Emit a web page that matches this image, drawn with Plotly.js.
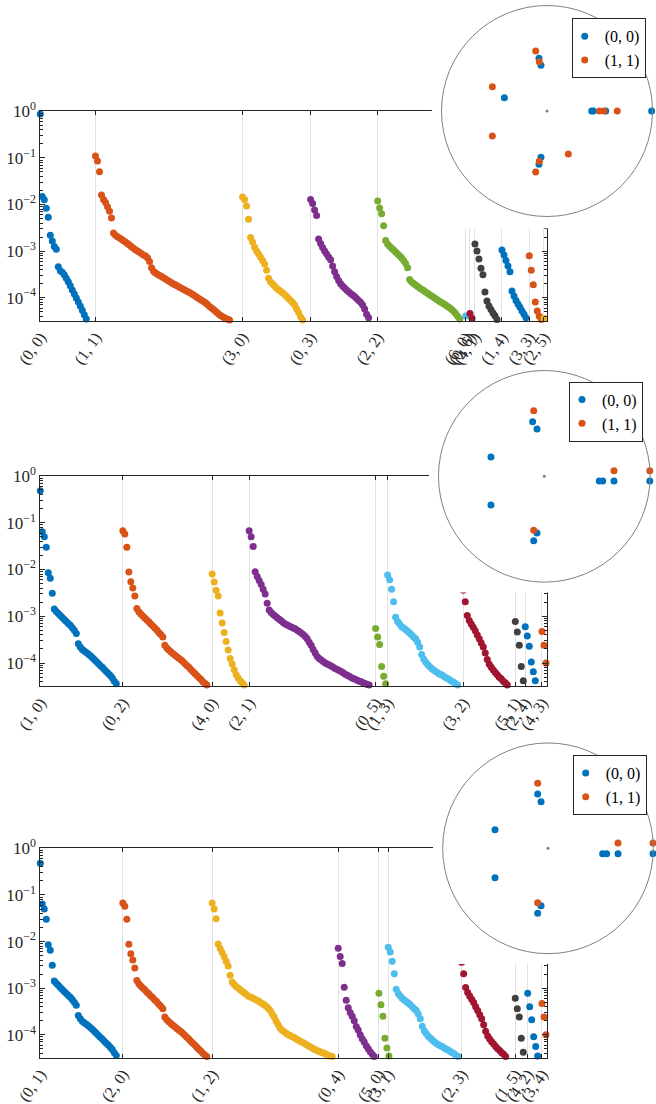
<!DOCTYPE html>
<html><head><meta charset="utf-8">
<script src="https://cdn.plot.ly/plotly-3.0.1.min.js"></script>
<style>html,body{margin:0;padding:0;background:#fff}#plot{width:656px;height:1104px}</style>
</head><body><div id="plot"></div>
<script>
// ---------- Panel 1 (triality 0) ----------
const p1Labels = ['(0, 0)','(1, 1)','(3, 0)','(0, 3)','(2, 2)','(6, 0)','(0, 6)','(4, 1)','(1, 4)','(3, 3)','(2, 5)'];
const p1Starts = [0, 27.6, 101.1, 135.1, 168.6, 212.6, 214.75, 217.25, 230.75, 244.4, 251.75];
const s00 = [0.875,0.0148,0.0127,0.0083,0.0053,0.0022,0.00165,0.00125,0.0011,0.00046,0.00038,0.00035,0.00031,0.00026,0.00022,0.00018,0.000146,0.00012,9.9e-5,8.1e-5,6.6e-5,5.4e-5,4.3e-5,3.5e-5];
const s11 = [0.11,0.0857,0.0506,0.016,0.0128,0.011,0.009,0.0072,0.0051,0.00245,
  0.00218,0.00203,0.00191,0.00179,0.00167,0.00157,0.00146,0.00135,0.00124,0.00115,
  0.00107,0.001,0.00094,0.00088,0.00082,0.00078,0.00072,0.0006,0.00044,0.00037,
  0.00034,0.00032,0.0003,0.000284,0.000267,0.000252,0.000236,0.000223,0.000209,0.000197,
  0.000186,0.000177,0.000167,0.000159,0.000151,0.000143,0.000136,0.000129,0.000121,0.000114,
  0.000107,0.0001,9.4e-5,8.8e-5,8.3e-5,7.8e-5,7.1e-5,6.5e-5,6.0e-5,5.6e-5,
  5.1e-5,4.7e-5,4.3e-5,4.05e-5,3.8e-5,3.6e-5,3.45e-5,3.3e-5];
const s30 = [0.0145,0.0128,0.0093,0.0048,0.00196,0.00157,0.00121,0.001,0.00087,0.00074,0.00063,0.00053,0.00039,0.00026,0.000217,0.000197,0.000177,0.00016,0.000148,0.000137,0.000127,0.000117,0.000106,9.6e-5,8.7e-5,7.9e-5,7.0e-5,5.7e-5,4.8e-5,3.9e-5,3.3e-5];
const s03 = [0.0128,0.0105,0.0076,0.0058,0.00182,0.00146,0.00119,0.001,0.00087,0.00075,0.00065,0.00048,0.00036,0.000285,0.000234,0.000199,0.000178,0.000161,0.000146,0.000134,0.000123,0.000114,0.000106,9.6e-5,8.7e-5,8.0e-5,7.0e-5,5.7e-5,4.4e-5,3.7e-5,3.2e-5];
const s22 = [0.0119,0.0084,0.0063,0.0035,0.00169,0.00142,0.00127,0.00115,0.00105,0.00095,0.00087,0.00079,0.00071,0.00063,0.00054,0.00044,0.000246,0.000217,0.000202,0.000187,0.000174,0.000161,0.000151,0.000142,0.000132,0.000124,0.000116,0.000109,0.000102,9.5e-5,8.9e-5,8.3e-5,7.9e-5,7.4e-5,7.0e-5,6.5e-5,6.1e-5,5.6e-5,5.1e-5,4.6e-5,4.0e-5,3.5e-5,3.2e-5];
const s60 = [4.05e-5];
const s06 = [4.6e-5,3.6e-5];
const s41 = [0.00142,0.001,0.00068,0.00043,0.00031,0.000132,8.5e-5,6.6e-5,5.6e-5,4.7e-5,4.1e-5,3.4e-5];
const s14 = [0.00106,0.00082,0.00063,0.00048,0.00036,0.000139,0.000109,8.7e-5,7.3e-5,6.2e-5,5.2e-5,4.4e-5,3.7e-5];
const s33 = [7.9e-4,3.9e-4,1.9e-4,8.1e-5,5.2e-5,4.0e-5,3.4e-5];
const s25 = [3.6e-5];

// ---------- Panel 2 (triality 1) ----------
const p2Labels = ['(1, 0)','(0, 2)','(4, 0)','(2, 1)','(0, 5)','(1, 3)','(3, 2)','(5, 1)','(2, 4)','(4, 3)'];
const p2Starts = [0, 41.25, 85.9, 104.4, 167.6, 173.6, 211.4, 237.4, 242.4, 250.75];
const s10 = [0.48,0.064,0.05,0.03,0.0085,0.0065,0.0031,0.00143,0.00127,0.00115,0.00104,0.00094,0.00085,0.00077,0.0007,0.00064,0.00057,0.0005,0.00043,0.00026,0.00022,0.000195,0.000182,0.000168,0.000156,0.000144,0.000132,0.000119,0.000108,9.8e-5,8.9e-5,8.1e-5,7.3e-5,6.6e-5,6.0e-5,5.4e-5,4.8e-5,4.1e-5,3.6e-5];
const s02 = [0.067,0.057,0.03,0.0088,0.0055,0.004,0.0027,0.00147,0.00125,0.00112,0.00101,0.00092,0.00083,0.00076,0.00068,0.00062,0.00056,0.00051,0.00045,0.00041,0.00036,0.00024,0.00021,0.00019,0.000175,0.00016,0.000149,0.000137,0.000127,0.000118,0.000108,9.8e-5,8.9e-5,8.1e-5,7.3e-5,6.6e-5,6.0e-5,5.4e-5,4.9e-5,4.5e-5,4.0e-5,3.7e-5,3.4e-5];
const s40 = [0.008,0.0054,0.0036,0.0027,0.00118,0.00072,0.00045,0.00029,0.00019,0.000125,9.5e-5,7.2e-5,5.6e-5,4.8e-5,4.2e-5,3.8e-5,3.4e-5];
const s21 = [0.067,0.05,0.031,0.0089,0.0071,0.0058,0.0048,0.0038,0.003,0.0019,0.00136,0.0012,0.00109,0.00101,0.00093,0.00086,0.0008,0.00074,0.00068,0.00065,0.00062,0.00059,0.00056,0.00054,0.0005,0.00047,0.00044,0.00041,0.00037,0.00033,0.00028,0.00024,0.000195,0.000164,0.000138,0.000125,0.000116,0.000108,0.0001,9.6e-5,9.1e-5,8.7e-5,8.1e-5,7.7e-5,7.3e-5,6.9e-5,6.6e-5,6.2e-5,5.8e-5,5.5e-5,5.2e-5,4.9e-5,4.7e-5,4.5e-5,4.3e-5,4.1e-5,4.0e-5,3.8e-5,3.65e-5,3.5e-5,3.4e-5];
const s05 = [5.5e-4,3.6e-4,2.5e-4,8.4e-5,5.2e-5,3.6e-5];
const s13 = [0.0076,0.006,0.0038,0.00205,0.00095,0.00077,0.00068,0.0006,0.00056,0.00052,0.00048,0.00044,0.0004,0.00036,0.00033,0.00028,0.00022,0.000153,0.000122,0.000106,9.3e-5,8.5e-5,7.7e-5,7.1e-5,6.6e-5,6.2e-5,5.8e-5,5.6e-5,5.2e-5,4.9e-5,4.7e-5,4.4e-5,4.1e-5,3.9e-5,3.6e-5,3.4e-5];
const s32 = [0.0036,0.00205,0.00104,0.00081,0.00068,0.00058,0.00049,0.0004,0.00033,0.00027,0.00022,0.000164,0.000119,9.4e-5,8.1e-5,7.1e-5,6.3e-5,5.6e-5,5.0e-5,4.6e-5,4.1e-5,3.8e-5,3.4e-5];
const s51 = [7.7e-4,4.6e-4,2.4e-4,8.4e-5,4.2e-5];
const s24 = [6.0e-4,3.8e-4,2.3e-4,1.05e-4,6.5e-5,4.2e-5];
const s43 = [4.7e-4,2.4e-4,1.0e-4,4.5e-5];

// ---------- Panel 3 (triality 2, conjugates) ----------
const p3Labels = ['(0, 1)','(2, 0)','(1, 2)','(0, 4)','(5, 0)','(3, 1)','(2, 3)','(1, 5)','(4, 2)','(3, 4)'];
const p3Starts = [0, 41.25, 85.9, 148.9, 169.25, 173.9, 210.6, 237.4, 243.6, 250.75];
const s04 = [0.0072,0.0048,0.0034,0.00105,5.5e-4,3.8e-4,3.0e-4,2.5e-4,2.0e-4,1.5e-4,1.27e-4,1.0e-4,8.2e-5,7.0e-5,5.8e-5,5.0e-5,4.3e-5,3.8e-5,3.4e-5];
const s50 = [7.8e-4,4.4e-4,2.5e-4,8.4e-5,5.2e-5,3.5e-5];
const s15 = [6.1e-4,3.6e-4,2.4e-4,8.4e-5,4.2e-5];
const s42 = [7.8e-4,4.0e-4,2.1e-4,9.1e-5,5.6e-5,3.5e-5];

const p1Series = [s00,s11,s30,s03,s22,s60,s06,s41,s14,s33,s25];
const p2Series = [s10,s02,s40,s21,s05,s13,s32,s51,s24,s43];
const p3Series = [s10,s02,s21,s04,s50,s13,s32,s15,s42,s43];

// ---------- Inset eigenvalues (complex plane) ----------
const i1BlueRe = [0.992,0.424,0.439,0.556,-0.076,-0.057,-0.404,-0.057,-0.076];
const i1BlueIm = [0,0,0,0,0.500,0.433,0.126,-0.439,-0.505];
const i1OrangeRe = [0.496,0.540,0.666,-0.107,-0.073,-0.518,-0.518,-0.073,-0.107,0.202];
const i1OrangeIm = [0,0,0,0.569,0.467,0.230,-0.237,-0.477,-0.578,-0.408];
const i2BlueRe = [-0.110,-0.069,-0.504,-0.504,-0.069,-0.100,0.520,0.552,0.659,0.997];
const i2BlueIm = [0.516,0.448,0.182,-0.272,-0.536,-0.609,-0.044,-0.044,-0.044,-0.044];
const i2OrangeRe = [-0.100,-0.100,0.659,0.997];
const i2OrangeIm = [0.620,-0.510,0.053,0.053];
const i3BlueRe = [-0.098,-0.066,-0.503,-0.503,-0.066,-0.098,0.519,0.557,0.665,0.997];
const i3BlueIm = [0.516,0.443,0.177,-0.279,-0.545,-0.617,-0.051,-0.051,-0.051,-0.051];
const i3OrangeRe = [-0.098,-0.098,0.665,0.997];
const i3OrangeIm = [0.617,-0.517,0.050,0.050];
const legendNames = ['(0, 0)','(1, 1)'];

const palette = ['#0072BD','#D95319','#EDB120','#7E2F8E','#77AC30','#4DBEEE','#A2142F','#404040'];
const axisColor = '#262626';
const serif = 'Liberation Serif, Times New Roman, serif';

const xDom = [0.0614, 0.8346];
const yDoms = [[0.70969,0.89918],[0.37862,0.56893],[0.04203,0.23152]];
const coverX = [[0.6585,1],[0.6540,1],[0.6601,1]];
const coverY = [[0.7932,1],[0.4633,0.6649],[0.1268,0.3279]];
const polarX = [[0.6730,0.9947],[0.6684,0.9910],[0.6748,0.9959]];
const polarY = [[0.8039,0.9950],[0.4727,0.6644],[0.1362,0.3270]];
const legendPos = [[0.8715,0.9834],[0.8674,0.6543],[0.8730,0.3161]];

const traces = [];
const layout = {
  width: 656, height: 1104, margin: {l:0,r:0,t:0,b:0},
  paper_bgcolor: '#fff', plot_bgcolor: '#fff', showlegend: true,
  font: {family: serif, color: axisColor}
};

const panels = [
  {starts: p1Starts, series: p1Series, labels: p1Labels},
  {starts: p2Starts, series: p2Series, labels: p2Labels},
  {starts: p3Starts, series: p3Series, labels: p3Labels}
];
const insets = [
  [i1BlueRe,i1BlueIm,i1OrangeRe,i1OrangeIm],
  [i2BlueRe,i2BlueIm,i2OrangeRe,i2OrangeIm],
  [i3BlueRe,i3BlueIm,i3OrangeRe,i3OrangeIm]
];

panels.forEach((p, k) => {
  const sfx = k === 0 ? '' : String(k + 1);
  p.series.forEach((vals, i) => {
    traces.push({
      type: 'scatter', mode: 'markers',
      x: vals.map((_, j) => p.starts[i] + j), y: vals,
      xaxis: 'x' + sfx, yaxis: 'y' + sfx,
      marker: {color: palette[i % palette.length], size: 7, line: {width: 0}},
      cliponaxis: false, showlegend: false, hoverinfo: 'skip'
    });
  });
  layout['xaxis' + sfx] = {
    domain: xDom, anchor: 'y' + sfx, range: [0, 253.5],
    tickmode: 'array', tickvals: p.starts, ticktext: p.labels, tickangle: -55,
    ticks: 'inside', ticklen: 4, tickcolor: axisColor, tickwidth: 1,
    showline: true, linecolor: axisColor, linewidth: 1, mirror: 'ticks',
    showgrid: true, gridcolor: '#e2e2e2', gridwidth: 1, zeroline: false,
    tickfont: {family: serif, size: 16, color: axisColor}, fixedrange: true
  };
  layout['yaxis' + sfx] = {
    domain: yDoms[k], anchor: 'x' + sfx, type: 'log', range: [-4.49, 0],
    tickmode: 'array', tickvals: [1, 0.1, 0.01, 0.001, 0.0001],
    ticktext: ['10<sup>0</sup>','10<sup>\u22121</sup>','10<sup>\u22122</sup>','10<sup>\u22123</sup>','10<sup>\u22124</sup>'],
    ticks: 'inside', ticklen: 5, tickcolor: axisColor, tickwidth: 1,
    minor: {ticks: 'inside', ticklen: 3, dtick: 'D1', tickcolor: axisColor, tickwidth: 1, showgrid: false},
    showline: true, linecolor: axisColor, linewidth: 1, mirror: 'ticks',
    showgrid: false, zeroline: false,
    tickfont: {family: serif, size: 17, color: axisColor}, fixedrange: true
  };
  // white box behind the inset
  const c = String(k + 4);
  traces.push({type: 'scatter', mode: 'markers', x: [null], y: [null], xaxis: 'x' + c, yaxis: 'y' + c, showlegend: false, hoverinfo: 'skip'});
  layout['xaxis' + c] = {domain: coverX[k], anchor: 'y' + c, visible: false, range: [0, 1], fixedrange: true};
  layout['yaxis' + c] = {domain: coverY[k], anchor: 'x' + c, visible: false, range: [0, 1], fixedrange: true};

  // polar inset
  const pol = 'polar' + sfx;
  const leg = 'legend' + sfx;
  const ins = insets[k];
  [[ins[0], ins[1], palette[0], legendNames[0]], [ins[2], ins[3], palette[1], legendNames[1]]].forEach(([re, im, col, nm]) => {
    traces.push({
      type: 'scatterpolar', mode: 'markers', subplot: pol, legend: leg, name: nm,
      r: re.map((a, j) => Math.hypot(a, im[j])),
      theta: re.map((a, j) => Math.atan2(im[j], a) * 180 / Math.PI),
      marker: {color: col, size: 7, line: {width: 0}}, cliponaxis: false, hoverinfo: 'skip'
    });
  });
  traces.push({type: 'scatterpolar', mode: 'markers', subplot: pol, r: [0], theta: [0],
    marker: {color: '#808080', size: 3}, showlegend: false, hoverinfo: 'skip'});
  layout[pol] = {
    domain: {x: polarX[k], y: polarY[k]}, bgcolor: 'rgba(0,0,0,0)',
    radialaxis: {visible: false, range: [0, 1]},
    angularaxis: {showgrid: false, showticklabels: false, ticks: '', showline: true, linecolor: '#808080', linewidth: 1}
  };
  layout[leg] = {
    x: legendPos[k][0], y: legendPos[k][1], xanchor: 'left', yanchor: 'top',
    bgcolor: '#fff', bordercolor: '#262626', borderwidth: 1, indentation: -8,
    font: {family: serif, size: 16, color: '#000'}, itemwidth: 30, tracegroupgap: 0
  };
});

Plotly.newPlot('plot', traces, layout, {staticPlot: true, displayModeBar: false});
</script>
</body></html>
